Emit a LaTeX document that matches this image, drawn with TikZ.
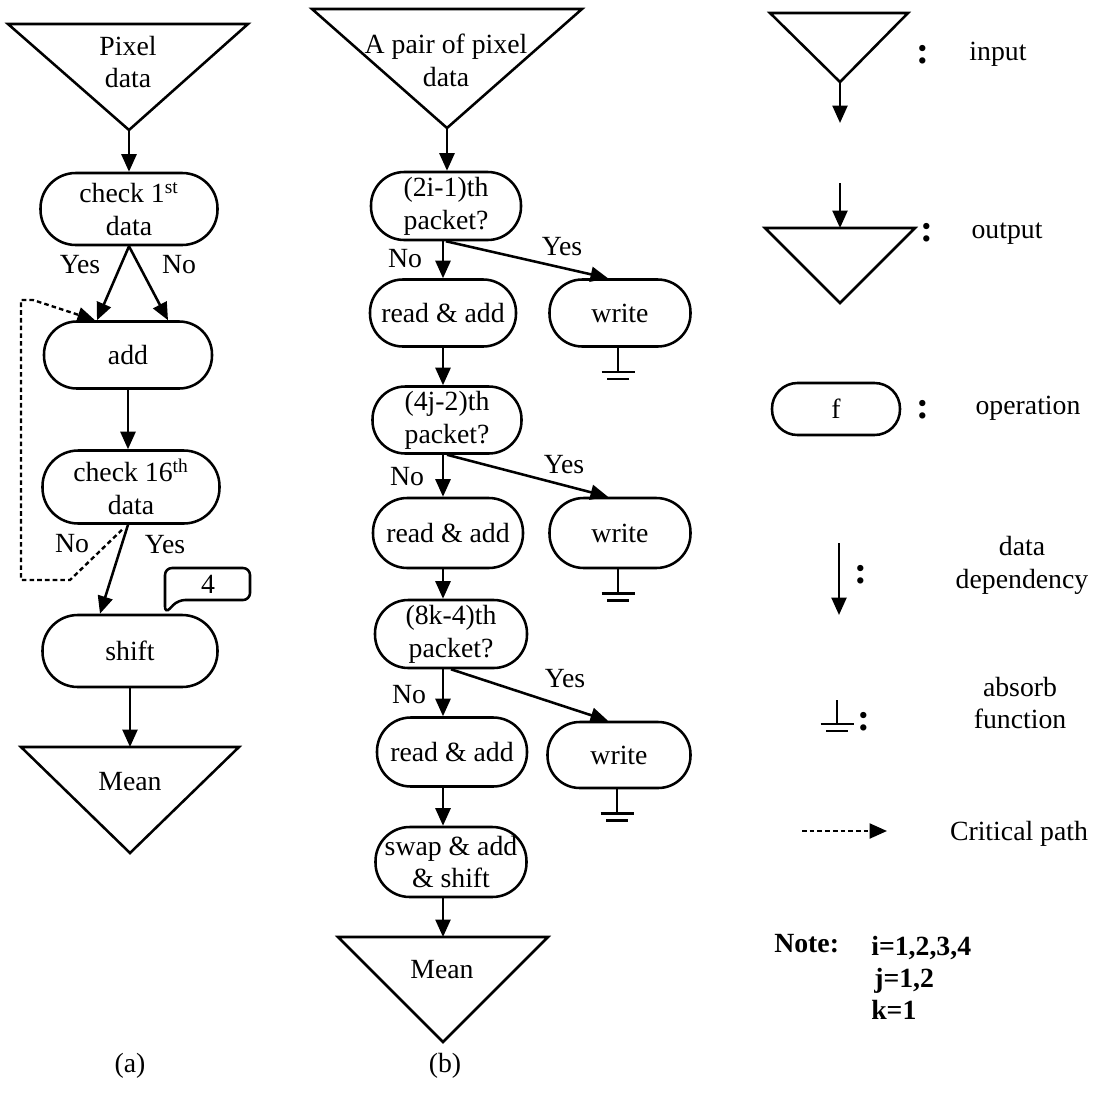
\documentclass[tikz,border=0pt]{standalone}
\usepackage{fontspec}
\setmainfont{Liberation Serif}
\usetikzlibrary{arrows.meta,calc}

\begin{document}
\begin{tikzpicture}[x=0.02cm,y=-0.02cm,
  font=\fontsize{15.8pt}{18.7pt}\selectfont,
  line width=1.45pt,
  opbox/.style n args={2}{draw, rectangle, inner sep=0pt, align=center,
     minimum width=#1*0.02cm, minimum height=#2*0.02cm,
     rounded corners=#2*0.0098cm},
  txt/.style={inner sep=0pt, align=center},
  boldtxt/.style={inner sep=0pt, font=\fontsize{15.8pt}{18.7pt}\selectfont\bfseries},
  arr/.style={-{Triangle[length=0.35cm,width=0.3cm]}},
  crit/.style={dash pattern=on 2.6pt off 1.8pt, line width=1.35pt,
     -{Triangle[length=0.35cm,width=0.3cm]}},
  colon/.style={inner sep=0pt, font=\fontsize{22pt}{22pt}\selectfont\bfseries},
  gnd/.pic={\draw (0,0) -- (0,24) (-16.5,24) -- (16.5,24) (-11,31) -- (11,31);}
]
\useasboundingbox (0,0) rectangle (1095,1092);

% ---------------- (a) mean of 16 pixels ----------------
\coordinate (aIn) at (129,130);
\draw (8,24) -- (248,24) -- (aIn) -- cycle;
\node[txt] (aInT) at (128,62) {Pixel\\data};

\node[opbox={177}{72}] (c1) at (129,209) {check 1\textsuperscript{st}\\data};
\node[opbox={168}{67}] (add) at (128,355) {add};
\node[opbox={177}{73}] (c16) at (131,487) {check 16\textsuperscript{th}\\data};
\node[opbox={175}{72}] (shift) at (130,651) {shift};

\coordinate (aOut) at (130,747);
\draw (21,747) -- (239,747) -- (130,853) -- cycle;
\node[txt,anchor=base] (aOutT) at (130,790) {Mean};

\draw[arr] (aIn) -- (c1.north);
\draw[arr] (c1.south) -- ($(add.north)+(-31,0)$);
\draw[arr] (c1.south) -- ($(add.north)+(40,0)$);
\draw[arr] (add.south) -- (add.south |- c16.north);
\draw[arr] ($(c16.south)+(-3,0)$) -- ($(shift.north)+(-30,0)$);
\draw[arr] (shift.south) -- (aOut);

% loop back while the 16th datum has not arrived
\draw[crit] ($(c16.south)+(-9,5)$) -- (70,580) -- (21,580) -- (21,300)
   -- (33,300) -- ($(add.north)+(-33,0)$);

% shift amount callout
\coordinate (calloutTip) at ($(shift.north)+(35,0)$);
\draw[rounded corners=0.14cm] (calloutTip) -- (165,568) -- (250,568)
   -- (250,600) -- (178,600) -- cycle;
\node[txt] (four) at (208,584) {4};

\node[txt,anchor=base] (ya1) at (80,273) {Yes};
\node[txt,anchor=base] (na1) at (179,273) {No};
\node[txt,anchor=base] (na2) at (72,552) {No};
\node[txt,anchor=base] (ya2) at (165,553) {Yes};
\node[txt] (capa) at (130,1066) {(a)};

% ---------------- (b) pairwise accumulation ----------------
\coordinate (bIn) at (447,128);
\draw (312,9) -- (582,9) -- (bIn) -- cycle;
\node[txt] (bInT) at (446,60) {A pair of pixel\\data};

\node[opbox={150}{68}] (q1) at (446,206) {(2i-1)th\\packet?};
\node[opbox={146}{67}] (r1) at (443,313) {read \& add};
\node[opbox={141}{67}] (w1) at (620,313) {write};
\node[opbox={149}{67}] (q2) at (447,420) {(4j-2)th\\packet?};
\node[opbox={150}{70}] (r2) at (448,533) {read \& add};
\node[opbox={141}{70}] (w2) at (620,533) {write};
\node[opbox={152}{68}] (q3) at (451,634) {(8k-4)th\\packet?};
\node[opbox={150}{69}] (r3) at (452,752) {read \& add};
\node[opbox={143}{66}] (w3) at (619,755) {write};
\node[opbox={151}{70}] (sw) at (451,862) {swap \& add\\\& shift};

\coordinate (bOut) at (443,937);
\draw (338,937) -- (548,937) -- (443,1042) -- cycle;
\node[txt,anchor=base] (bOutT) at (442,978) {Mean};

\coordinate (bcol) at (443,0);
\draw[arr] (bIn) -- (bIn |- q1.north);
\draw[arr] (q1.south -| bcol) -- (r1.north -| bcol);
\draw[arr] (r1.south -| bcol) -- (q2.north -| bcol);
\draw[arr] (q2.south -| bcol) -- (r2.north -| bcol);
\draw[arr] (r2.south -| bcol) -- (q3.north -| bcol);
\draw[arr] (q3.south -| bcol) -- (r3.north -| bcol);
\draw[arr] (r3.south -| bcol) -- (sw.north -| bcol);
\draw[arr] (sw.south -| bcol) -- (bOut);

\draw[arr] (q1.south) -- ($(w1.north)+(-12,0)$);
\draw[arr] (q2.south) -- ($(w2.north)+(-12,0)$);
\draw[arr] (q3.south) -- ($(w3.north)+(-11,0)$);

\pic at ($(w1.south)+(-2,0)$) {gnd};
\pic at ($(w2.south)+(-2,0)$) {gnd};
\pic at ($(w3.south)+(-2,0)$) {gnd};

\node[txt,anchor=base] (nb1) at (405,267) {No};
\node[txt,anchor=base] (yb1) at (562,255) {Yes};
\node[txt,anchor=base] (nb2) at (407,485) {No};
\node[txt,anchor=base] (yb2) at (564,473) {Yes};
\node[txt,anchor=base] (nb3) at (409,703) {No};
\node[txt,anchor=base] (yb3) at (565,687) {Yes};
\node[txt] (capb) at (445,1066) {(b)};

% ---------------- legend ----------------
\coordinate (lInApex) at (840,82);
\coordinate (lInEnd) at (840,123);
\draw (770,13) -- (908,13) -- (lInApex) -- cycle;
\draw[arr] (lInApex) -- (lInEnd);
\node[colon] (k1) at (923,55) {:};
\node[txt,anchor=base] (lIn) at (998,60) {input};

\coordinate (lOutStart) at (840,183);
\coordinate (lOutTop) at (840,228);
\draw[arr] (lOutStart) -- (lOutTop);
\draw (765,228) -- (915,228) -- (840,303) -- cycle;
\node[colon] (k2) at (927,233) {:};
\node[txt,anchor=base] (lOut) at (1007,238) {output};

\node[opbox={128}{52}] (lOp) at (836,409) {f};
\node[colon] (k3) at (923,410) {:};
\node[txt,anchor=base] (lOpT) at (1028,414) {operation};

\coordinate (lDepA) at (839,543);
\coordinate (lDepB) at (839,615);
\draw[arr] (lDepA) -- (lDepB);
\node[colon] (k4) at (861,575) {:};
\node[txt] (lDepT) at (1022,565) {data\\dependency};

\coordinate (lGnd) at (837,700);
\pic at (lGnd) {gnd};
\node[colon] (k5) at (864,722) {:};
\node[txt] (lAbsT) at (1020,703) {absorb\\function};

\coordinate (lCritA) at (802,831);
\coordinate (lCritB) at (887,831);
\draw[crit] (lCritA) -- (lCritB);
\node[txt,anchor=base] (lCritT) at (1019,840) {Critical path};

\node[boldtxt,anchor=base west] (note) at (773,952) {Note:};
\node[boldtxt,anchor=base west] (ni) at (870,955) {i=1,2,3,4};
\node[boldtxt,anchor=base west] (nj) at (873,987) {j=1,2};
\node[boldtxt,anchor=base west] (nk) at (870,1019) {k=1};
\end{tikzpicture}
\end{document}
